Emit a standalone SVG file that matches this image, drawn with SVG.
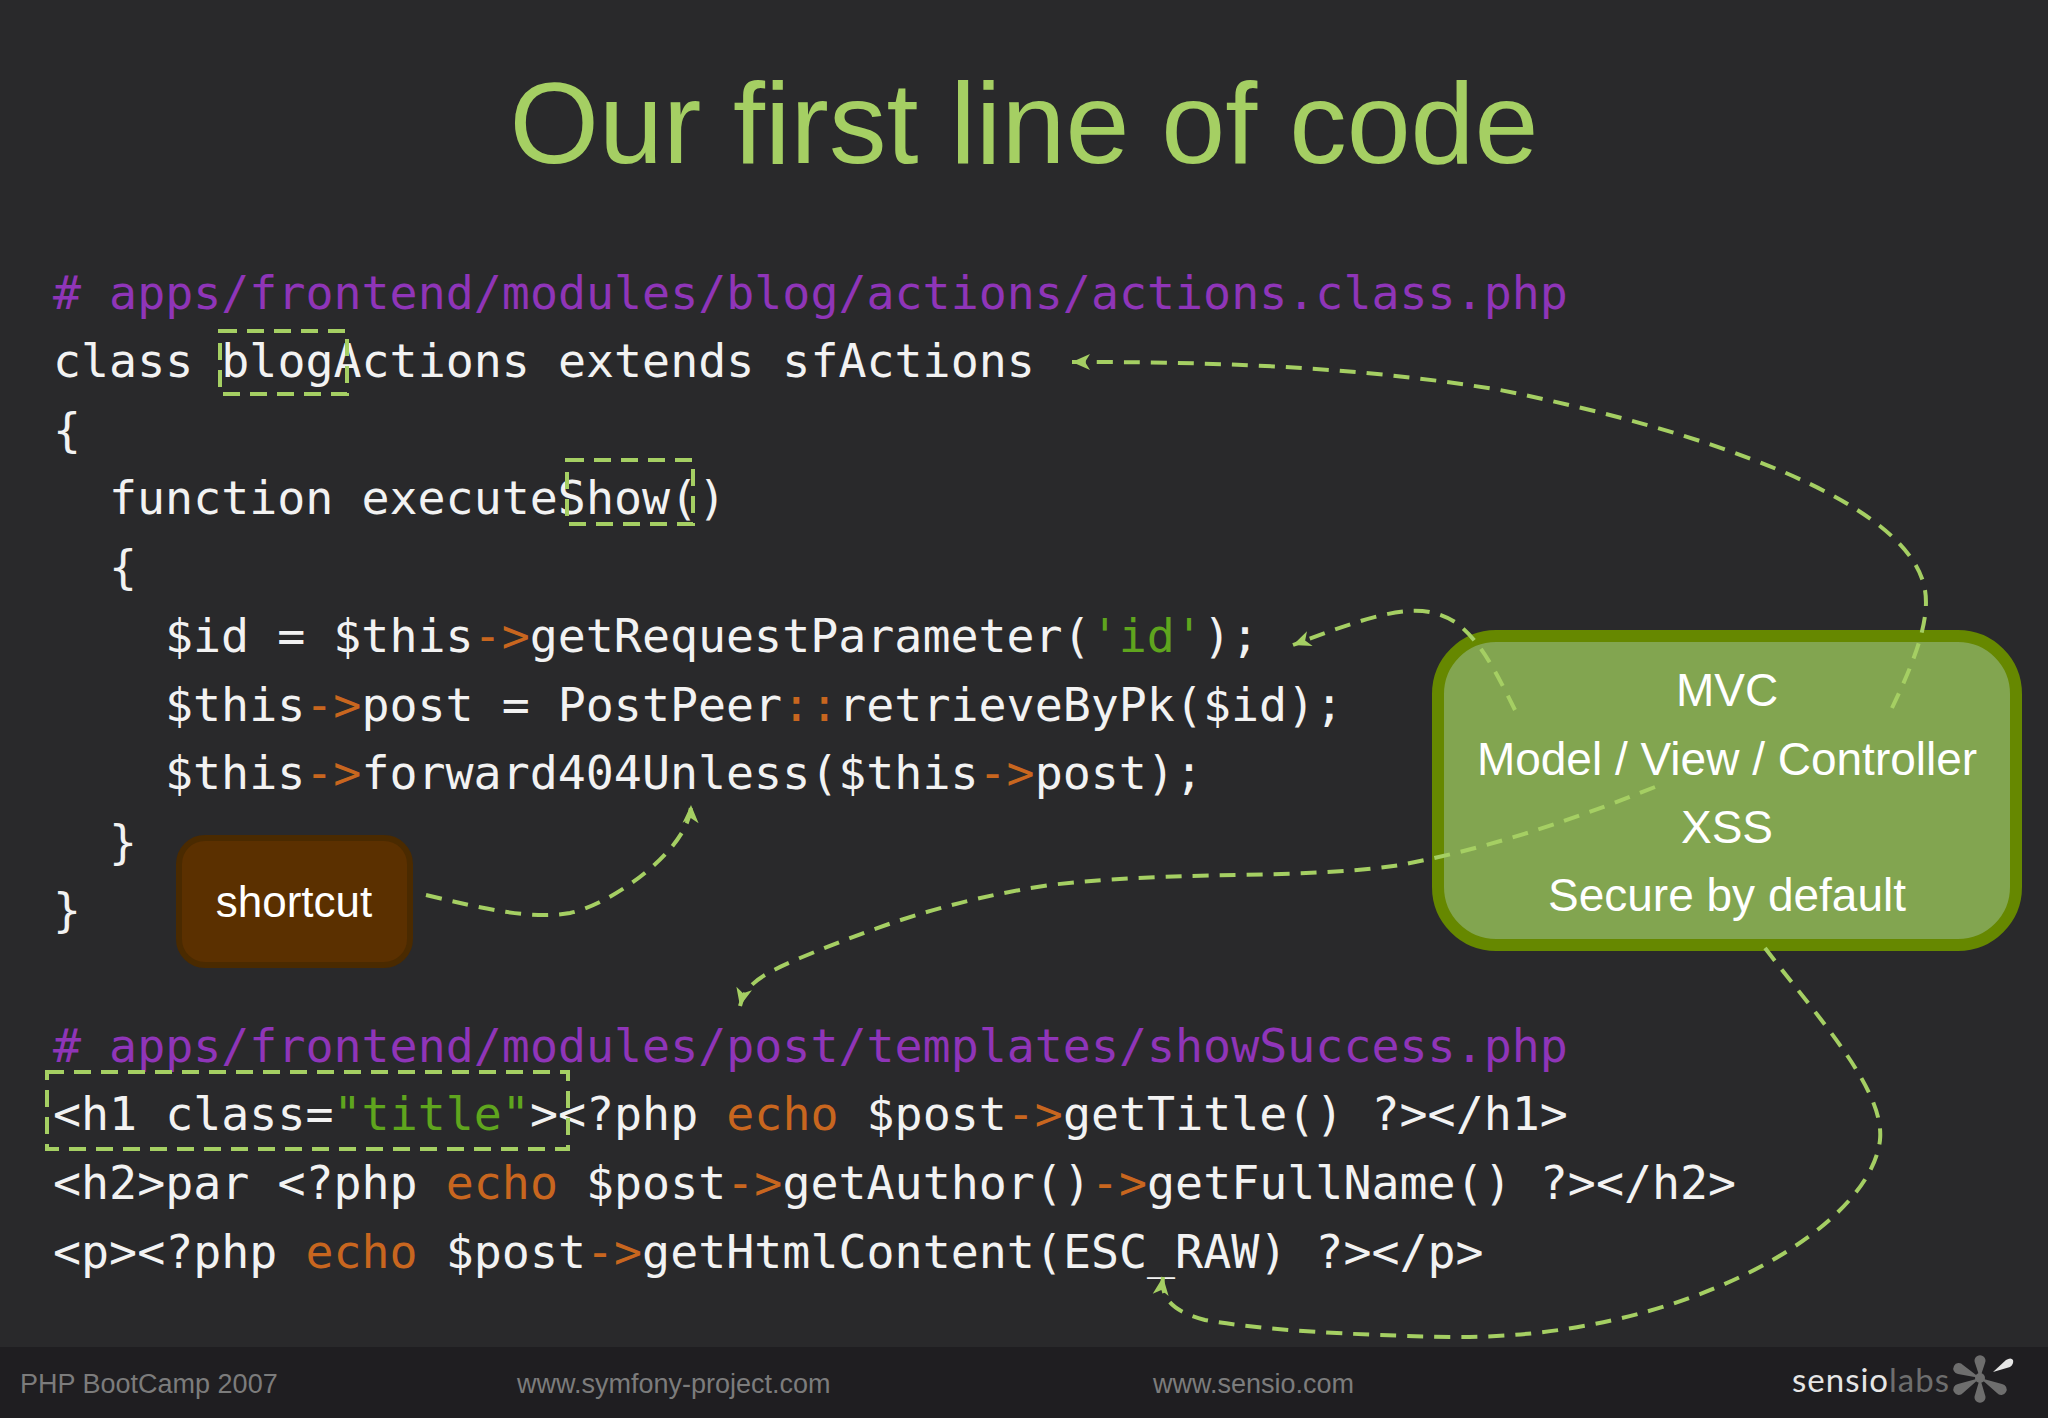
<svg xmlns="http://www.w3.org/2000/svg" width="2048" height="1418" viewBox="0 0 2048 1418">
<defs>
<style>
.code{font-family:"DejaVu Sans Mono",monospace;font-size:46.6px;fill:#f2f2f2}
.c{fill:#8f35b8}.o{fill:#c8661f}.g{fill:#5fa51e}
.sans{font-family:"Liberation Sans",Arial,sans-serif}
.foot{font-family:"Liberation Sans",Arial,sans-serif;font-size:27px;fill:#7c7c7c}
.conn{fill:none;stroke:#a5cf63;stroke-width:4;stroke-dasharray:16 11}
.hl{fill:none;stroke:#a5cf63;stroke-width:4;stroke-dasharray:17 10}
.boxt{font-family:"Liberation Sans",Arial,sans-serif;font-size:46px;fill:#fff;text-anchor:middle}
</style>
<marker id="arr" markerUnits="userSpaceOnUse" markerWidth="26" markerHeight="24" refX="20" refY="10" orient="auto">
<path d="M20 10L2 2L7 10L2 18Z" fill="#a5cf63"/>
</marker>
</defs>
<rect width="2048" height="1418" fill="#29292b"/>
<rect y="1347" width="2048" height="71" fill="#1f1e21"/>
<text id="title" class="sans" x="1024" y="163" font-size="115" fill="#a5cf63" text-anchor="middle">Our first line of code</text>

<g id="code-actions">
<text class="code c" x="53" y="309"># apps/frontend/modules/blog/actions/actions.class.php</text>
<text class="code" x="53" y="377">class blogActions extends sfActions</text>
<text class="code" x="53" y="446">{</text>
<text class="code" x="109" y="514">function executeShow()</text>
<text class="code" x="109" y="583">{</text>
<text class="code" x="165" y="652">$id = $this<tspan class="o">-&gt;</tspan>getRequestParameter(<tspan class="g">'id'</tspan>);</text>
<text class="code" x="165" y="721">$this<tspan class="o">-&gt;</tspan>post = PostPeer<tspan class="o">::</tspan>retrieveByPk($id);</text>
<text class="code" x="165" y="789">$this<tspan class="o">-&gt;</tspan>forward404Unless($this<tspan class="o">-&gt;</tspan>post);</text>
<text class="code" x="109" y="858">}</text>
<text class="code" x="53" y="926">}</text>
</g>
<g id="code-template">
<text class="code c" x="53" y="1062"># apps/frontend/modules/post/templates/showSuccess.php</text>
<text class="code" x="53" y="1130">&lt;h1 class=<tspan class="g">"title"</tspan>&gt;&lt;?php <tspan class="o">echo</tspan> $post<tspan class="o">-&gt;</tspan>getTitle() ?&gt;&lt;/h1&gt;</text>
<text class="code" x="53" y="1199">&lt;h2&gt;par &lt;?php <tspan class="o">echo</tspan> $post<tspan class="o">-&gt;</tspan>getAuthor()<tspan class="o">-&gt;</tspan>getFullName() ?&gt;&lt;/h2&gt;</text>
<text class="code" x="53" y="1268">&lt;p&gt;&lt;?php <tspan class="o">echo</tspan> $post<tspan class="o">-&gt;</tspan>getHtmlContent(ESC_RAW) ?&gt;&lt;/p&gt;</text>
</g>

<g id="node-mvc">
<rect x="1438" y="636" width="578" height="309" rx="58" fill="#82a550" stroke="#668800" stroke-width="12"/>
<text class="boxt" x="1727" y="706">MVC</text>
<text class="boxt" x="1727" y="775">Model / View / Controller</text>
<text class="boxt" x="1727" y="843">XSS</text>
<text class="boxt" x="1727" y="911">Secure by default</text>
</g>
<g id="node-shortcut">
<rect x="179" y="838" width="231" height="127" rx="26" fill="#5b3000" stroke="#4a2a00" stroke-width="6"/>
<text class="sans" x="294" y="917" font-size="44" fill="#fff" text-anchor="middle">shortcut</text>
</g>
<g id="highlights">
<rect class="hl" x="220" y="331" width="127" height="63"/>
<rect class="hl" x="567" y="460" width="126" height="64"/>
<rect class="hl" x="47" y="1072" width="521" height="77"/>
</g>

<g id="connectors">
<path class="conn" marker-end="url(#arr)" d="M1892 708C1915 660 1930 620 1925 590C1910 500 1700 430 1500 390C1350 365 1200 362 1072 362"/>
<path class="conn" marker-end="url(#arr)" d="M1515 710C1495 670 1480 640 1455 622C1420 600 1380 612 1293 645"/>
<path class="conn" marker-end="url(#arr)" d="M1655 787C1560 825 1480 850 1400 865C1300 880 1180 870 1050 885C950 900 880 925 800 958C760 975 745 985 740 1006"/>
<path class="conn" marker-end="url(#arr)" d="M426 895C480 908 530 920 570 913C610 905 690 850 691 805"/>
<path class="conn" marker-end="url(#arr)" d="M1765 948C1820 1020 1885 1090 1880 1140C1870 1230 1680 1340 1450 1337C1350 1335 1260 1330 1205 1320C1175 1312 1160 1300 1163 1277"/>
</g>

<g id="footer">
<text class="foot" x="20" y="1393">PHP BootCamp 2007</text>
<text class="foot" x="517" y="1393">www.symfony-project.com</text>
<text class="foot" x="1153" y="1393">www.sensio.com</text>
<text x="1792" y="1392" font-family="Lato,sans-serif" font-size="33" letter-spacing="1" fill="#e6e6e6">sensio<tspan fill="#6e6e6e">labs</tspan></text>
<g fill="#6e6e6e">
<ellipse cx="1980" cy="1378" rx="5" ry="5"/>
<path d="M1980 1378L1975 1363A5.500 5.500 0 1 1 1985 1363Z"/>
<path d="M1980 1378L1975 1395A5.500 5.500 0 1 0 1985 1395Z"/>
<path d="M1980 1378L1963 1365A5.500 5.500 0 1 0 1958 1374Z"/>
<path d="M1980 1378L1958 1384A5.500 5.500 0 1 0 1963 1393Z"/>
<path d="M1980 1378L2002 1384A5.500 5.500 0 1 1 1997 1393Z"/>
</g>
<path d="M1993 1372L2006 1360Q2011 1357 2013 1360Q2014 1364 2010 1367Z" fill="#e6e6e6"/>
</g>
</svg>
